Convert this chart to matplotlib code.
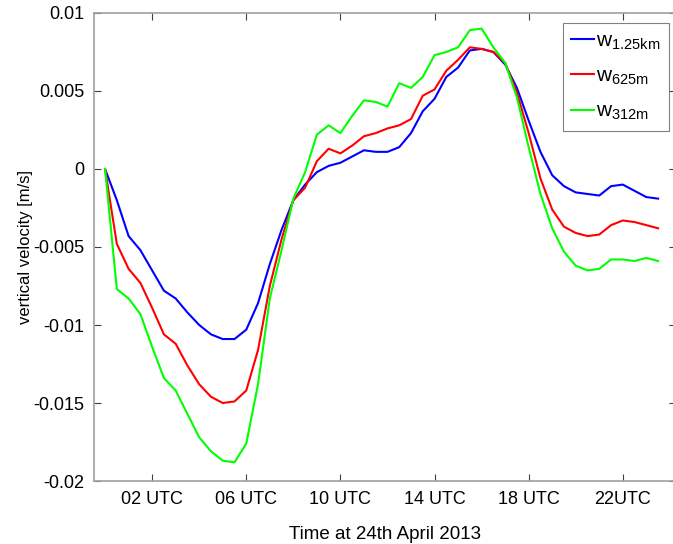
import numpy as np
import matplotlib
matplotlib.use("Agg")
import matplotlib.pyplot as plt

plt.rcParams['font.family'] = ['Liberation Sans', 'DejaVu Sans']
plt.rcParams['mathtext.fontset'] = 'custom'
plt.rcParams['mathtext.rm'] = 'Liberation Sans'
plt.rcParams['mathtext.it'] = 'Liberation Sans'

# half-hourly output, hours since 00 UTC
hours = np.arange(48) * 0.5

w_1250 = [0, -0.0020, -0.0043, -0.0052, -0.0065, -0.0078, -0.0083, -0.0092,
          -0.0100, -0.0106, -0.0109, -0.0109, -0.0103, -0.0086, -0.0061, -0.0039,
          -0.0020, -0.0010, -0.0002, 0.0002, 0.0004, 0.0008, 0.0012, 0.0011,
          0.0011, 0.0014, 0.0023, 0.0037, 0.0045, 0.0059, 0.0065, 0.0076,
          0.0077, 0.0075, 0.0067, 0.0052, 0.0031, 0.0011, -0.0004, -0.0011,
          -0.0015, -0.0016, -0.0017, -0.0011, -0.0010, -0.0014, -0.0018, -0.0019]

w_625 = [0, -0.0048, -0.0064, -0.0073, -0.0089, -0.0106, -0.0112, -0.0126,
         -0.0138, -0.0146, -0.0150, -0.0149, -0.0142, -0.0116, -0.0075, -0.0045,
         -0.0020, -0.0012, 0.0005, 0.0013, 0.0010, 0.0015, 0.0021, 0.0023,
         0.0026, 0.0028, 0.0032, 0.0047, 0.0051, 0.0063, 0.0070, 0.0078,
         0.0077, 0.0075, 0.0068, 0.0049, 0.0023, -0.0006, -0.0026, -0.0037,
         -0.0041, -0.0043, -0.0042, -0.0036, -0.0033, -0.0034, -0.0036, -0.0038]

w_312 = [0, -0.0077, -0.0083, -0.0093, -0.0114, -0.0134, -0.0142, -0.0157,
         -0.0172, -0.0181, -0.0187, -0.0188, -0.0176, -0.0138, -0.0083, -0.0052,
         -0.0019, -0.0002, 0.0022, 0.0028, 0.0023, 0.0034, 0.0044, 0.0043,
         0.0040, 0.0055, 0.0052, 0.0059, 0.0073, 0.0075, 0.0078, 0.0089,
         0.0090, 0.0078, 0.0068, 0.0046, 0.0014, -0.0016, -0.0038, -0.0053,
         -0.0062, -0.0065, -0.0064, -0.0058, -0.0058, -0.0059, -0.0057, -0.0059]

xticks = [2, 6, 10, 14, 18, 22]
xticklabels = ['02 UTC', '06 UTC', '10 UTC', '14 UTC', '18 UTC', '22UTC']
yticks = [-0.02, -0.015, -0.01, -0.005, 0, 0.005, 0.01]
yticklabels = ['-0.02', '-0.015', '-0.01', '-0.005', '0', '0.005', '0.01']

W, H = 673, 544
fig = plt.figure(figsize=(W / 100, H / 100), dpi=100)
ax = fig.add_axes([94 / W, 1 - 481 / H, (676 - 94) / W, (481 - 13) / H])

ax.plot(hours, w_1250, color='#0000ff', lw=1.5, label=r'$\mathregular{w_{1.25km}}$')
ax.plot(hours, w_625, color='#ff0000', lw=1.5, label=r'$\mathregular{w_{625m}}$')
ax.plot(hours, w_312, color='#00ff00', lw=1.5, label=r'$\mathregular{w_{312m}}$')

ax.set_xlim(-0.47, 24.26)
ax.set_ylim(-0.02, 0.01)
ax.set_xticks(xticks)
ax.set_xticklabels(xticklabels)
ax.set_yticks(yticks)
ax.set_yticklabels(yticklabels)
ax.tick_params(direction='in', length=5, width=0.8, color='#404040',
               labelsize=13, top=True, right=True, pad=7)
for s in ax.spines.values():
    s.set_color('#a0a0a0')
    s.set_linewidth(1.2)

ax.set_ylabel('vertical velocity [m/s]', fontsize=12, labelpad=0)
ax.set_xlabel('Time at 24th April 2013', fontsize=13.5, labelpad=13)

leg = ax.legend(loc='upper right', bbox_to_anchor=(669 / W, 1 - 23 / H),
                bbox_transform=fig.transFigure, fontsize=15, fancybox=False,
                handlelength=1.1, handletextpad=0.1, labelspacing=0.72,
                borderpad=0.4, borderaxespad=0)
leg.get_frame().set_edgecolor('#606060')
leg.get_frame().set_linewidth(0.8)

fig.savefig('out.png', dpi=100)
